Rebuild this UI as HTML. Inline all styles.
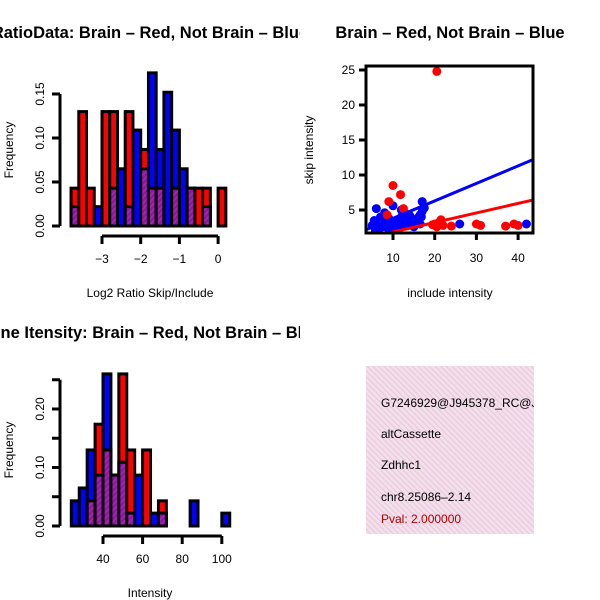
<!DOCTYPE html>
<html><head><meta charset="utf-8"><style>
body{margin:0;background:#fff}
svg{display:block;font-family:"Liberation Sans",sans-serif}
</style></head><body>
<svg id="c" width="600" height="600" viewBox="0 0 600 600" xmlns="http://www.w3.org/2000/svg">
<defs>
<pattern id="purp" width="4" height="4" patternUnits="userSpaceOnUse" patternTransform="rotate(45)">
<rect width="4" height="4" fill="#8a1a9a"/><rect width="1.5" height="4" fill="#b020c0"/></pattern>
<pattern id="pink" width="4" height="4" patternUnits="userSpaceOnUse" patternTransform="rotate(-45)">
<rect width="4" height="4" fill="#f9dcf2"/><rect width="1.2" height="4" fill="#dcd2cc"/></pattern>
</defs>
<g id="g"></g>
</svg>
<script>
// Ratio histogram data
const ratioBreakStart = -3.8, ratioBinW = 0.2;
const ratioRed  = [0.043,0.13,0.043,0,0.13,0.13,0,0.13,0,0.087,0.043,0.043,0,0.043,0,0.043,0.043,0.043,0,0.043];
const ratioBlue = [0.022,0,0,0.022,0,0.043,0.065,0.022,0.109,0.065,0.174,0.087,0.152,0.109,0.065,0.043,0,0.022,0,0];
const ratioXTicks = [-3,-2,-1,0];
const ratioYTicks = [0,0.05,0.10,0.15];
const ratioYLabels = ["0.00","0.05","0.10","0.15"];
// Intensity histogram data
const intBreakStart = 24, intBinW = 4;
const intRed  = [0,0,0.043,0.174,0.13,0.087,0.26,0.13,0,0.13,0,0.043,0,0,0,0,0,0,0,0];
const intBlue = [0.043,0.065,0.13,0.087,0.26,0.087,0.109,0.022,0.087,0,0.022,0.022,0,0,0,0.043,0,0,0,0.022];
const intXTicks = [40,60,80,100];
const intYTicks = [0,0.05,0.10,0.15,0.20,0.25];
const intYLabels = ["0.00","","0.10","","0.20",""];
// Scatter data
const redX = [20.5,10,9,11.8,12.5,8.6,20,21,22,20.5,24,30,31,37,39,40,21.5,19.5];
const redY = [24.8,8.5,6.2,7.2,5.2,4.3,3.0,3.2,2.8,2.6,2.7,3.0,2.8,2.7,3.0,2.8,3.6,2.9];
const blueX = [5,6,5.5,7,8,9,10,11,12,13,14,15,16,17,6.5,7.5,8.5,9.5,10.5,11.5,12.5,13.5,14.5,15.5,16.5,17.5,17,16.8,16.5,7,9,13,12,10,26,42,8,6,11,15,14,5.8];
const blueY = [2.8,5.2,3.5,4.0,3.2,3.8,2.9,3.4,4.0,4.5,3.6,3.2,3.9,4.8,2.3,2.6,3.0,2.5,3.3,2.7,3.1,3.0,2.8,3.4,4.3,5.3,6.2,4.0,3.0,2.5,2.2,2.9,5.0,5.6,3.0,3.0,4.6,3.0,2.4,2.6,4.2,2.0];
const blueFit = [1.3,0.25], redFit = [0.5,0.136];
const scXTicks = [10,20,30,40], scYTicks = [5,10,15,20,25];

const NS="http://www.w3.org/2000/svg", G=document.getElementById('g');
function el(t,a,txt){const e=document.createElementNS(NS,t);for(const k in a)e.setAttribute(k,a[k]);if(txt!==undefined)e.textContent=txt;G.appendChild(e);return e;}

function hist(o){
  const X=v=>o.x0+(v-o.v0)*o.sx, Y=v=>o.y0-v*o.sy;
  for(let i=0;i<o.red.length;i++){
    const a=o.bs+i*o.bw, l=X(a), r=X(a+o.bw);
    const rv=o.red[i], bv=o.blue[i], mx=Math.max(rv,bv), mn=Math.min(rv,bv);
    if(mx<=0) continue;
    const b=el('rect',{x:l,y:Y(mx),width:r-l,height:Y(0)-Y(mx),fill:rv>=bv?'#ff0000':'#0000ff',stroke:'#000','stroke-width':3});
    
    
    if(mn>0){const p=el('rect',{x:l,y:Y(mn),width:r-l,height:Y(0)-Y(mn),fill:'url(#purp)',stroke:'#000','stroke-width':3});
      
      }
  }
  const ya=el('line',{x1:o.ax,x2:o.ax,y1:Y(0),y2:Y(o.yt[o.yt.length-1]),stroke:'#000','stroke-width':3});
  
  o.yt.forEach((t,i)=>{el('line',{x1:o.ax-8,x2:o.ax,y1:Y(t),y2:Y(t),stroke:'#000','stroke-width':3});
    if(o.yl[i]){const tx=el('text',{x:0,y:0,'font-size':12,'text-anchor':'middle',transform:`translate(${o.ax-16},${Y(t)}) rotate(-90)`},o.yl[i]);
    }});
  const xa=el('line',{x1:X(o.xt[0]),x2:X(o.xt[o.xt.length-1]),y1:o.axy,y2:o.axy,stroke:'#000','stroke-width':3});
  
  o.xt.forEach(t=>{el('line',{x1:X(t),x2:X(t),y1:o.axy,y2:o.axy+8,stroke:'#000','stroke-width':3});
    const tx=el('text',{x:X(t),y:o.axy+27,'font-size':12,'text-anchor':'middle'},t<0?'\u2212'+(-t):String(t));
    });
}
hist({name:'ratio',red:ratioRed,blue:ratioBlue,bs:ratioBreakStart,bw:ratioBinW,v0:-3,x0:102,sx:38.7,y0:226,sy:880,xt:ratioXTicks,yt:ratioYTicks,yl:ratioYLabels,ax:60,axy:236});
hist({name:'intensity',red:intRed,blue:intBlue,bs:intBreakStart,bw:intBinW,v0:40,x0:103,sx:1.98,y0:526,sy:585,xt:intXTicks,yt:intYTicks,yl:intYLabels,ax:60,axy:536});

// scatter
const SX=v=>351.3+v*4.17, SY=v=>245-v*7;
const cl=el('clipPath',{id:'sc'});cl.innerHTML='<rect x="366" y="66" width="167" height="167"/>';
blueX.forEach((x,i)=>{const c=el('circle',{cx:SX(x),cy:SY(blueY[i]),r:4.5,fill:'#0000ff','clip-path':'url(#sc)'});
  });
redX.forEach((x,i)=>{const c=el('circle',{cx:SX(x),cy:SY(redY[i]),r:4.5,fill:'#ff0000','clip-path':'url(#sc)'});
  });
[[blueFit,'#0000ff','blue-fit-line'],[redFit,'#ff0000','red-fit-line']].forEach(([f,c,n])=>{
  const l=el('line',{x1:SX(3),y1:SY(f[0]+f[1]*3),x2:SX(45),y2:SY(f[0]+f[1]*45),stroke:c,'stroke-width':3,'clip-path':'url(#sc)'});
  });
const box=el('rect',{x:366,y:66,width:167,height:167,fill:'none',stroke:'#000','stroke-width':3});

scXTicks.forEach(t=>{el('line',{x1:SX(t),x2:SX(t),y1:233,y2:240,stroke:'#000','stroke-width':3});
  const tx=el('text',{x:SX(t),y:262,'font-size':12,'text-anchor':'middle'},t);
  });
scYTicks.forEach(t=>{el('line',{x1:359,x2:366,y1:SY(t),y2:SY(t),stroke:'#000','stroke-width':3});
  const tx=el('text',{x:355,y:SY(t)+4,'font-size':12,'text-anchor':'end'},t);
  });
</script>
<svg style="position:absolute;left:0;top:0" width="600" height="600" xmlns="http://www.w3.org/2000/svg" font-family="Liberation Sans, sans-serif">
<svg x="0" y="0" width="300" height="600">
<text x="150" y="38" font-size="16.5" font-weight="bold" text-anchor="middle">RatioData: Brain – Red, Not Brain – Blue</text>
<text x="150" y="338" font-size="16.5" font-weight="bold" text-anchor="middle">Gene Itensity: Brain – Red, Not Brain – Blue</text>
</svg>
<text x="450" y="38" font-size="16.5" font-weight="bold" text-anchor="middle">Brain – Red, Not Brain – Blue</text>
<text x="150" y="297" font-size="12" text-anchor="middle">Log2 Ratio Skip/Include</text>
<text transform="translate(13,150) rotate(-90)" font-size="12" text-anchor="middle">Frequency</text>
<text x="450" y="297" font-size="12" text-anchor="middle">include intensity</text>
<text transform="translate(313,150) rotate(-90)" font-size="12" text-anchor="middle">skip intensity</text>
<text x="150" y="597" font-size="12" text-anchor="middle">Intensity</text>
<text transform="translate(13,450) rotate(-90)" font-size="12" text-anchor="middle">Frequency</text>
<svg x="366" y="366" width="168" height="168">
<rect width="168" height="168" fill="url(#pink)"/>
<text x="15" y="41" font-size="12">G7246929@J945378_RC@J945381</text>
<text x="15" y="72" font-size="12">altCassette</text>
<text x="15" y="103" font-size="12">Zdhhc1</text>
<text x="15" y="135" font-size="12">chr8.25086–2.14</text>
<text x="15" y="157" font-size="12" fill="#b00000">Pval: 2.000000</text>
</svg>
</svg>
</body></html>
